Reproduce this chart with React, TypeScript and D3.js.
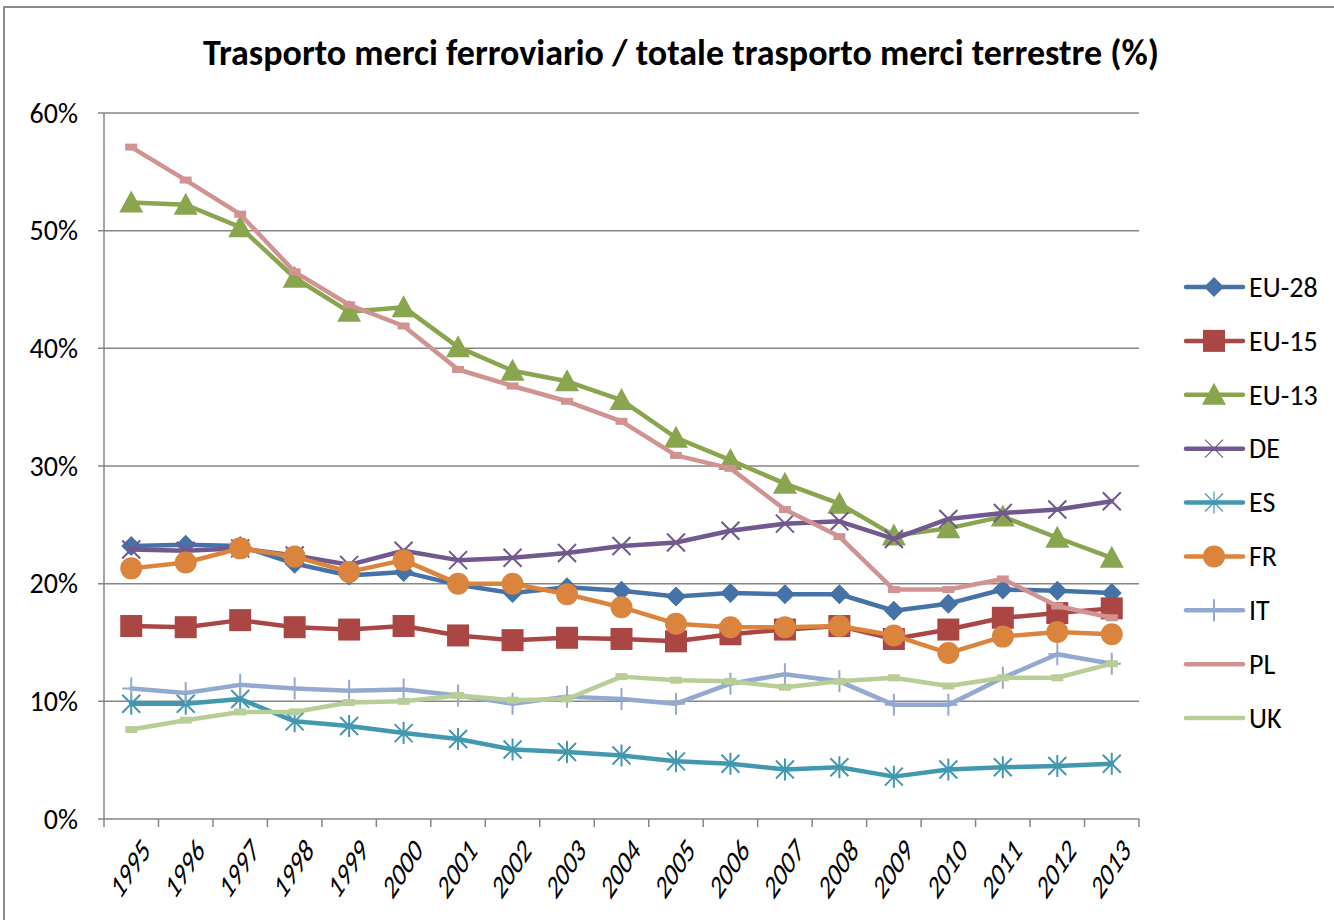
import React from 'react';
import * as d3 from 'd3';

const years = ['1995', '1996', '1997', '1998', '1999', '2000', '2001', '2002', '2003', '2004', '2005', '2006', '2007', '2008', '2009', '2010', '2011', '2012', '2013'];

const eu28 = [23.2, 23.3, 23.2, 21.7, 20.7, 21.0, 19.9, 19.2, 19.7, 19.4, 18.9, 19.2, 19.1, 19.1, 17.7, 18.3, 19.5, 19.4, 19.2];
const eu15 = [16.4, 16.3, 16.9, 16.3, 16.1, 16.4, 15.6, 15.2, 15.4, 15.3, 15.1, 15.7, 16.1, 16.4, 15.3, 16.1, 17.1, 17.5, 17.9];
const eu13 = [52.4, 52.2, 50.3, 46.0, 43.1, 43.5, 40.1, 38.1, 37.2, 35.6, 32.4, 30.5, 28.5, 26.8, 24.1, 24.7, 25.7, 23.9, 22.2];
const de = [22.9, 22.8, 23.0, 22.4, 21.6, 22.8, 22.0, 22.2, 22.6, 23.2, 23.5, 24.5, 25.1, 25.3, 23.8, 25.5, 26.0, 26.3, 27.0];
const es = [9.8, 9.8, 10.2, 8.3, 7.9, 7.3, 6.8, 5.9, 5.7, 5.4, 4.9, 4.7, 4.2, 4.4, 3.6, 4.2, 4.4, 4.5, 4.7];
const fr = [21.3, 21.8, 23.0, 22.3, 21.0, 22.0, 20.0, 20.0, 19.1, 18.0, 16.6, 16.3, 16.3, 16.4, 15.6, 14.1, 15.5, 15.9, 15.7];
const it = [11.1, 10.7, 11.4, 11.1, 10.9, 11.0, 10.5, 9.8, 10.4, 10.2, 9.8, 11.5, 12.3, 11.7, 9.7, 9.7, 12.0, 14.0, 13.2];
const pl = [57.1, 54.3, 51.4, 46.5, 43.7, 41.9, 38.2, 36.8, 35.5, 33.8, 30.9, 29.8, 26.3, 24.0, 19.5, 19.5, 20.4, 18.1, 17.1];
const uk = [7.6, 8.4, 9.1, 9.1, 9.9, 10.0, 10.5, 10.1, 10.2, 12.1, 11.8, 11.7, 11.2, 11.7, 12.0, 11.3, 12.0, 12.0, 13.2];

const yTicks = [0, 10, 20, 30, 40, 50, 60];

type Marker = 'diamond' | 'square' | 'triangle' | 'x' | 'star' | 'circle' | 'plus' | 'dash';

const series: { name: string; values: number[]; color: string; marker: Marker }[] = [
  { name: 'EU-28', values: eu28, color: '#4572A7', marker: 'diamond' },
  { name: 'EU-15', values: eu15, color: '#AA4643', marker: 'square' },
  { name: 'EU-13', values: eu13, color: '#89A54E', marker: 'triangle' },
  { name: 'DE', values: de, color: '#71588F', marker: 'x' },
  { name: 'ES', values: es, color: '#4198AF', marker: 'star' },
  { name: 'FR', values: fr, color: '#DB843D', marker: 'circle' },
  { name: 'IT', values: it, color: '#93A9CF', marker: 'plus' },
  { name: 'PL', values: pl, color: '#D19392', marker: 'dash' },
  { name: 'UK', values: uk, color: '#B9CD96', marker: 'dash' },
];

const font = "Carlito, Lato, 'Open Sans', sans-serif";

function MarkerShape({ type, x, y, color, legend }: { type: Marker; x: number; y: number; color: string; legend?: boolean }) {
  switch (type) {
    case 'diamond':
      return <path d={`M${x},${y - 10}L${x + 10},${y}L${x},${y + 10}L${x - 10},${y}Z`} fill={color} />;
    case 'square':
      return <rect x={x - 11} y={y - 11} width={22} height={22} fill={color} />;
    case 'triangle':
      return <path d={`M${x},${y - 12}L${x + 12},${y + 10}L${x - 12},${y + 10}Z`} fill={color} />;
    case 'circle':
      return <circle cx={x} cy={y} r={11} fill={color} />;
    case 'x':
      return (
        <path d={`M${x - 9},${y - 9}L${x + 9},${y + 9}M${x - 9},${y + 9}L${x + 9},${y - 9}`} stroke={color} strokeWidth={legend ? 1.2 : 2} fill="none" />
      );
    case 'star':
      return (
        <path
          d={`M${x - 9},${y - 9}L${x + 9},${y + 9}M${x - 9},${y + 9}L${x + 9},${y - 9}M${x},${y - 11}L${x},${y + 11}`}
          stroke={color}
          strokeWidth={legend ? 1.2 : 2}
          fill="none"
        />
      );
    case 'plus':
      return <path d={`M${x - 9},${y}L${x + 9},${y}M${x},${y - 11}L${x},${y + 11}`} stroke={color} strokeWidth={2} fill="none" />;
    case 'dash':
      return legend ? null : <rect x={x - 6} y={y - 3.5} width={12} height={7} fill={color} />;
    default:
      return null;
  }
}

export default function App() {
  const width = 1334;
  const height = 920;
  const plot = { left: 104, right: 1139, top: 113, bottom: 819 };

  const x = d3.scaleBand<string>().domain(years).range([plot.left, plot.right]).padding(0);
  const y = d3.scaleLinear().domain([0, 60]).range([plot.bottom, plot.top]);
  const cx = (yr: string) => (x(yr) as number) + x.bandwidth() / 2;

  const line = d3
    .line<number>()
    .x((_, i) => cx(years[i]))
    .y((d) => y(d));

  const legendY = d3.scalePoint<string>().domain(series.map((s) => s.name)).range([287, 718]);

  const boundaries = years.map((yr) => x(yr) as number).concat([plot.right]);

  return (
    <svg width={width} height={height} style={{ position: 'absolute', left: 0, top: 0 }}>
      <rect x={0} y={0} width={width} height={height} fill="#fff" />
      <rect x={4} y={7} width={width + 10} height={height + 10} fill="none" stroke="#8c8c8c" strokeWidth={2} />

      <text x={681} y={65} textAnchor="middle" fontFamily={font} fontWeight="bold" fontSize={36} fill="#000">
        Trasporto merci ferroviario / totale trasporto merci terrestre (%)
      </text>

      {yTicks.map((t) => (
        <g key={t}>
          <line x1={plot.left - 6} x2={plot.right} y1={y(t)} y2={y(t)} stroke="#868686" strokeWidth={1.5} />
          <text x={78} y={y(t)} dy="0.35em" textAnchor="end" fontFamily={font} fontSize={28} fill="#000">
            {t}%
          </text>
        </g>
      ))}

      <line x1={plot.left} x2={plot.left} y1={plot.top} y2={plot.bottom} stroke="#868686" strokeWidth={1.5} />
      {boundaries.map((b, i) => (
        <line key={i} x1={b} x2={b} y1={plot.bottom} y2={plot.bottom + 8} stroke="#868686" strokeWidth={1.5} />
      ))}

      {years.map((yr) => (
        <text
          key={yr}
          transform={`translate(${cx(yr) + 9},${plot.bottom + 16}) scale(0.88,1.35) rotate(-45)`}
          textAnchor="end"
          dy="0.72em"
          fontFamily={font}
          fontSize={25}
          fill="#000"
        >
          {yr}
        </text>
      ))}

      {series.map((s) => (
        <g key={s.name}>
          <path d={line(s.values) as string} fill="none" stroke={s.color} strokeWidth={4.5} strokeLinejoin="round" strokeLinecap="round" />
          {s.values.map((v, i) => (
            <MarkerShape key={i} type={s.marker} x={cx(years[i])} y={y(v)} color={s.color} />
          ))}
        </g>
      ))}

      {series.map((s) => {
        const ly = legendY(s.name) as number;
        return (
          <g key={s.name}>
            <line x1={1186} x2={1243} y1={ly} y2={ly} stroke={s.color} strokeWidth={4.5} strokeLinecap="round" />
            <MarkerShape type={s.marker} x={1214} y={ly} color={s.color} legend />
            <text x={1249} y={ly} dy="0.35em" fontFamily={font} fontSize={28} fill="#000">
              {s.name}
            </text>
          </g>
        );
      })}
    </svg>
  );
}
